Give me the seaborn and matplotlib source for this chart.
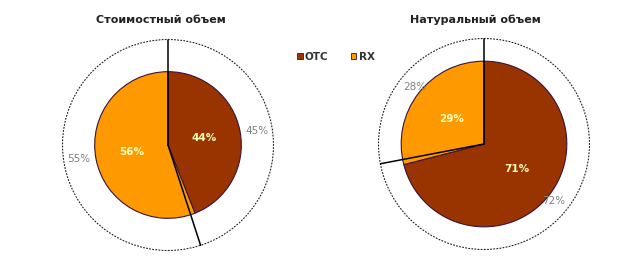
import numpy as np
import matplotlib
matplotlib.use("Agg")
import matplotlib.pyplot as plt
import seaborn as sns

sns.set_theme(style="white")
plt.rcParams['font.family'] = ['DejaVu Sans']

categories = ["OTC", "RX"]
titles = ["Стоимостный объем", "Натуральный объем"]
inner_values = [[44, 56], [71, 29]]
outer_values = [[45, 55], [72, 28]]

colors = ["#993300", "#FF9900"]
inner_radius = [0.695, 0.785]

W, H = 642, 272
fig = plt.figure(figsize=(W / 100, H / 100), dpi=100)
fig.patch.set_facecolor("white")

centers = [(168, 145), (484, 144)]
title_x = [161, 475]
R_px = 105.5
half = 1.1 * R_px

wedges_for_legend = None
for i in range(2):
    cx, cy = centers[i]
    ax = fig.add_axes([(cx - half) / W, (H - cy - half) / H, 2 * half / W, 2 * half / H])

    # outer ring (invisible wedges, labels only)
    ow, _, otexts = ax.pie(outer_values[i], radius=1.0, startangle=90, counterclock=False,
                           wedgeprops=dict(fill=False, linewidth=0),
                           autopct="%.0f%%", pctdistance=0.855)
    for t in otexts:
        t.set_color("#808080")
        t.set_fontsize(7.5)

    # inner pie
    iw, _, itexts = ax.pie(inner_values[i], radius=inner_radius[i], startangle=90,
                           counterclock=False, colors=colors,
                           wedgeprops=dict(edgecolor="#3a1438", linewidth=0.8),
                           autopct="%.0f%%", pctdistance=0.5)
    for t in itexts:
        t.set_color("#FFFFBB")
        t.set_fontsize(7.5)
        t.set_fontweight("bold")
    if wedges_for_legend is None:
        wedges_for_legend = iw

    # radial boundary lines of the outer ring
    for w in ow:
        th = np.deg2rad(w.theta1)
        ax.plot([0, np.cos(th)], [0, np.sin(th)], color="black", lw=1.1, zorder=10)

    circ = plt.Circle((0, 0), 1.0, fill=False, ls=(0, (1.6, 1.2)), lw=0.8, color="#222222", zorder=9)
    ax.add_patch(circ)

    ax.set_xlim(-1.1, 1.1)
    ax.set_ylim(-1.1, 1.1)
    ax.set_aspect("equal")
    ax.axis("off")

    fig.text(title_x[i] / W, 1 - 20 / H, titles[i], ha="center", va="center",
             fontsize=8, fontweight="bold", color="#222222")

leg = fig.legend(wedges_for_legend, categories, loc="center", bbox_to_anchor=(336 / W, 1 - 57 / H),
                 ncol=2, frameon=False, handlelength=0.5, handleheight=0.5,
                 handletextpad=0.2, columnspacing=2.2, prop=dict(size=7.5, weight="bold"))
for h in leg.legend_handles:
    h.set_linewidth(0.6)
for t in leg.get_texts():
    t.set_color("#333333")

fig.savefig("out.png", dpi=100, facecolor="white")
